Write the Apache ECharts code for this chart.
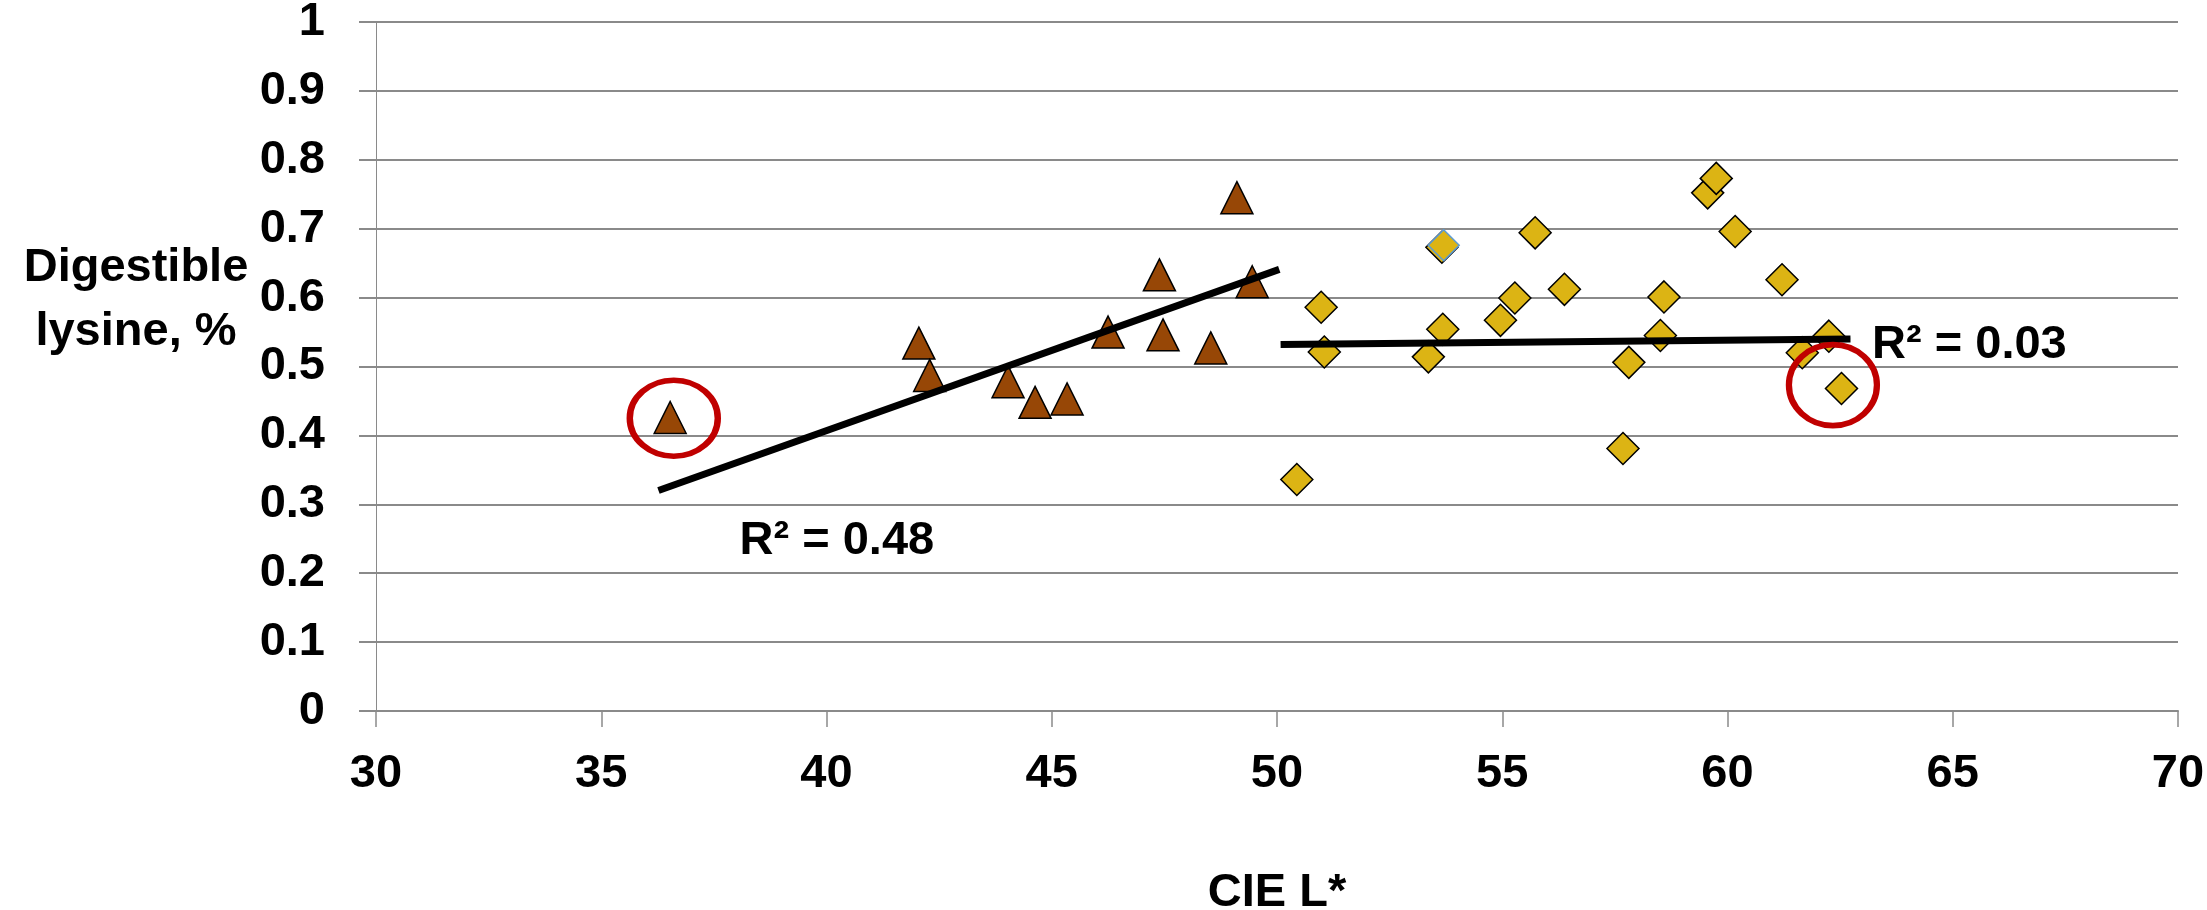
<!DOCTYPE html>
<html>
<head>
<meta charset="utf-8">
<script src="https://cdn.jsdelivr.net/npm/echarts@6/dist/echarts.min.js"></script>
<style>
html,body{margin:0;padding:0;background:#fff;}
#chart{width:2207px;height:910px;}
</style>
</head>
<body>
<div id="chart"></div>
<script>
// Dark group (triangles)
const darkX = [36.53, 42.05, 42.29, 44.03, 44.63, 45.34, 46.25, 47.39, 47.47, 48.53, 49.11, 49.45];
const darkY = [0.426, 0.534, 0.487, 0.478, 0.448, 0.453, 0.550, 0.633, 0.546, 0.527, 0.745, 0.623];
// Light group (diamonds)
const lightX = [50.98, 51.05, 50.44, 53.36, 53.66, 53.68, 54.96, 55.28, 55.73, 56.38, 57.68, 57.81, 58.51, 58.59, 59.56, 59.75, 60.17, 61.21, 61.66, 62.25, 62.53];
const lightY = [0.586, 0.521, 0.336, 0.514, 0.673, 0.554, 0.567, 0.5995, 0.694, 0.612, 0.381, 0.506, 0.545, 0.601, 0.752, 0.773, 0.696, 0.626, 0.520, 0.544, 0.468];
// Single highlighted light point (blue outline)
const extraX = [53.70];
const extraY = [0.676];
// Trend lines (end points)
const trendDarkX = [36.27, 50.05];
const trendDarkY = [0.320, 0.641];
const trendLightX = [50.08, 62.73];
const trendLightY = [0.532, 0.540];
// Circled outliers
const outlierX = [36.61, 62.34];
const outlierY = [0.425, 0.473];
// R² labels
const r2Text = ['R² = 0.48', 'R² = 0.03'];
const r2X = [40.23, 65.37];
const r2Y = [0.2466, 0.5308];
// Axis ticks
const xTicks = [30, 35, 40, 45, 50, 55, 60, 65, 70];
const yTicks = [0, 0.1, 0.2, 0.3, 0.4, 0.5, 0.6, 0.7, 0.8, 0.9, 1];

const zip = (xs, ys) => xs.map((x, i) => [x, ys[i]]);
const FONT = '"Liberation Sans", Arial, sans-serif';
const FS = 47;
const GRID = '#8a8a8a';

const chart = echarts.init(document.getElementById('chart'), null, {renderer: 'canvas'});
chart.setOption({
  animation: false,
  backgroundColor: '#ffffff',
  title: {
    text: 'Digestible\nlysine, %',
    left: 131,
    top: 231,
    textAlign: 'center',
    textStyle: {fontFamily: FONT, fontSize: FS, fontWeight: 'bold', color: '#000', lineHeight: 64}
  },
  grid: {left: 376, right: 29, top: 22, bottom: 199, containLabel: false, outerBoundsMode: 'none'},
  xAxis: {
    type: 'value',
    min: xTicks[0], max: xTicks[xTicks.length - 1], interval: 5,
    name: 'CIE L*', nameLocation: 'middle', nameGap: 159,
    nameTextStyle: {fontFamily: FONT, fontSize: FS, fontWeight: 'bold', color: '#000'},
    axisLine: {show: true, onZero: false, lineStyle: {color: GRID, width: 2}},
    axisTick: {show: true, length: 16, lineStyle: {color: GRID, width: 1.5}},
    axisLabel: {fontFamily: FONT, fontSize: FS, fontWeight: 'bold', color: '#000', margin: 40},
    splitLine: {show: false}
  },
  yAxis: {
    type: 'value',
    min: yTicks[0], max: yTicks[yTicks.length - 1], interval: 0.1,
    axisLine: {show: true, onZero: false, lineStyle: {color: GRID, width: 1}},
    axisTick: {show: true, length: 17, lineStyle: {color: GRID, width: 2}},
    axisLabel: {fontFamily: FONT, fontSize: FS, fontWeight: 'bold', color: '#000', margin: 51},
    splitLine: {show: true, lineStyle: {color: GRID, width: 2}}
  },
  series: [
    {
      type: 'scatter', name: 'dark', z: 2,
      symbol: 'triangle', symbolSize: 32,
      itemStyle: {color: '#974706', borderColor: '#000', borderWidth: 1.5, opacity: 1},
      emphasis: {disabled: true},
      data: zip(darkX, darkY)
    },
    {
      type: 'scatter', name: 'light', z: 2,
      symbol: 'diamond', symbolSize: 32,
      itemStyle: {color: '#DCB414', borderColor: '#000', borderWidth: 1.5, opacity: 1},
      emphasis: {disabled: true},
      data: zip(lightX, lightY)
    },
    {
      type: 'scatter', name: 'light2', z: 2,
      symbol: 'diamond', symbolSize: 31,
      itemStyle: {color: '#DCB414', borderColor: '#5B9BD5', borderWidth: 1.5, opacity: 1},
      emphasis: {disabled: true},
      data: zip(extraX, extraY)
    },
    {
      type: 'line', name: 'trendDark', z: 3,
      symbol: 'none', silent: true,
      lineStyle: {color: '#000', width: 7, cap: 'butt'},
      data: zip(trendDarkX, trendDarkY)
    },
    {
      type: 'line', name: 'trendLight', z: 3,
      symbol: 'none', silent: true,
      lineStyle: {color: '#000', width: 7, cap: 'butt'},
      data: zip(trendLightX, trendLightY)
    },
    {
      type: 'scatter', name: 'outliers', z: 4, silent: true,
      symbol: 'circle',
      symbolSize: (v, p) => p.dataIndex === 0 ? [88, 76] : [88, 81],
      itemStyle: {color: 'rgba(0,0,0,0)', borderColor: '#C00000', borderWidth: 6, opacity: 1},
      data: zip(outlierX, outlierY)
    },
    {
      type: 'scatter', name: 'r2', z: 5, silent: true,
      symbolSize: 1,
      itemStyle: {color: 'rgba(0,0,0,0)', opacity: 1},
      label: {
        show: true, position: 'inside',
        formatter: (p) => r2Text[p.dataIndex],
        fontFamily: FONT, fontSize: FS, fontWeight: 'bold', color: '#000'
      },
      data: zip(r2X, r2Y)
    }
  ]
});
</script>
</body>
</html>
